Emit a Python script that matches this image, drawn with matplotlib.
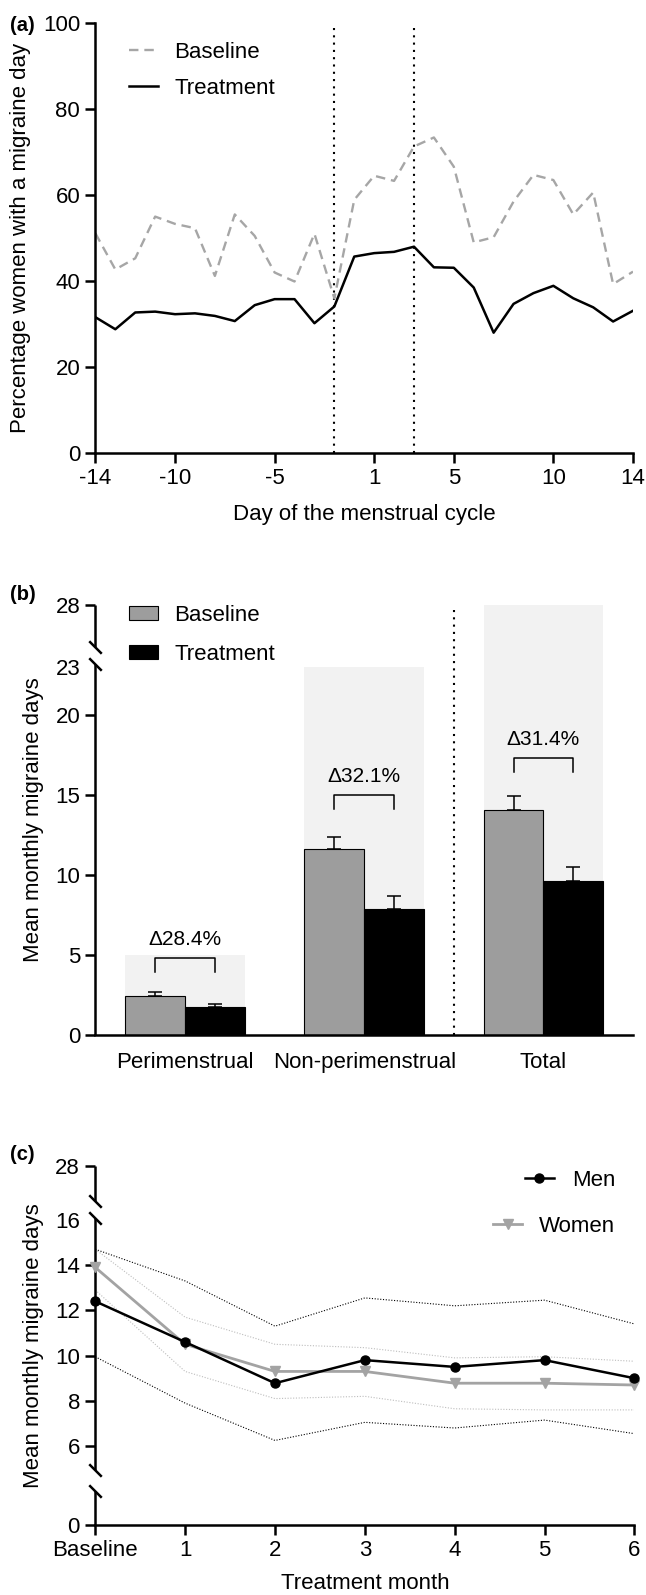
import numpy as np
import matplotlib
matplotlib.use("Agg")
from matplotlib import pyplot as plt

plt.rcParams["font.family"] = ["Liberation Sans", "DejaVu Sans"]
plt.rcParams["axes.unicode_minus"] = False

# ---- (a) percentage of women with a migraine day per cycle day
days = list(range(-14, 0)) + list(range(1, 15))
baseline_pct = [51.0, 42.6, 45.2, 54.9, 53.2, 52.2, 41.1, 55.4, 50.4, 41.9, 39.8, 50.9, 35.9, 58.8,
                64.4, 63.2, 71.2, 73.3, 66.5, 48.9, 50.1, 58.4, 64.6, 63.4, 55.4, 60.5, 39.2, 42.1]
treatment_pct = [31.5, 28.7, 32.6, 32.8, 32.2, 32.4, 31.8, 30.6, 34.3, 35.7, 35.7, 30.1, 34.0, 45.6,
                 46.4, 46.7, 47.9, 43.1, 43.0, 38.4, 27.9, 34.6, 37.1, 38.8, 35.9, 33.8, 30.5, 33.0]
peri_window = [-2, 3]
day_ticks = [-14, -10, -5, 1, 5, 10, 14]

# ---- (b) mean monthly migraine days by period
groups = ["Perimenstrual", "Non-perimenstrual", "Total"]
base_mmd = [2.45, 11.6, 14.05]
base_err = [0.25, 0.8, 0.9]
treat_mmd = [1.75, 7.88, 9.62]
treat_err = [0.2, 0.78, 0.85]
max_days = [5, 23, 28]
delta_labels = ["\u039428.4%", "\u039432.1%", "\u039431.4%"]
bracket_y = [4.8, 15.0, 17.3]

# ---- (c) men vs women over treatment months
months = ["Baseline", "1", "2", "3", "4", "5", "6"]
men = [12.4, 10.6, 8.78, 9.8, 9.5, 9.8, 9.0]
men_hi = [14.7, 13.3, 11.3, 12.55, 12.2, 12.45, 11.4]
men_lo = [9.95, 7.9, 6.25, 7.05, 6.8, 7.15, 6.55]
women = [13.9, 10.5, 9.3, 9.3, 8.78, 8.78, 8.7]
women_hi = [14.7, 11.7, 10.5, 10.35, 9.9, 9.95, 9.75]
women_lo = [12.9, 9.3, 8.1, 8.2, 7.65, 7.6, 7.6]

FS = 16
LW = 1.8


def skip_zero_fwd(d):
    d = np.asarray(d, float)
    return np.where(d > 0, d - 1, d)


def skip_zero_inv(u):
    u = np.asarray(u, float)
    return np.where(u > -1, u + 1, u)


def b_fwd(y):
    y = np.asarray(y, float)
    return np.where(y <= 23, y, 23 + (y - 23) * 0.775)


def b_inv(u):
    u = np.asarray(u, float)
    return np.where(u <= 23, u, 23 + (u - 23) / 0.775)


def c_fwd(y):
    y = np.asarray(y, float)
    return np.where(y < 6, 6 - (6 - y) * 0.581, np.where(y > 16, 16 + (y - 16) * 0.1985, y))


def c_inv(u):
    u = np.asarray(u, float)
    return np.where(u < 6, 6 - (6 - u) / 0.581, np.where(u > 16, 16 + (u - 16) / 0.1985, u))


def broken_left_spine(ax, segments, breaks):
    ax.spines["left"].set_visible(False)
    tr = ax.get_yaxis_transform()
    for y0, y1 in segments:
        ax.plot([0, 0], [y0, y1], transform=tr, color="k", lw=LW, solid_capstyle="butt", clip_on=False)
    for yb in breaks:
        ax.plot([0], [yb], transform=tr, marker=[(-1, 1), (1, -1)], ms=9, mew=LW,
                mec="k", mfc="k", clip_on=False)


def style(ax):
    for s in ["top", "right"]:
        ax.spines[s].set_visible(False)
    for s in ["left", "bottom"]:
        ax.spines[s].set_linewidth(LW)
    ax.tick_params(direction="out", length=7, width=LW, labelsize=FS, pad=4)


fig = plt.figure(figsize=(6.46, 15.95), dpi=100)

# ================= (a)
ax = fig.add_axes([0.1477, 0.7162, 0.8322, 0.2696])
style(ax)
ax.set_xscale("function", functions=(skip_zero_fwd, skip_zero_inv))
ax.plot(days, baseline_pct, color="#a6a6a6", lw=1.7, ls=(0, (4, 2.5)), label="Baseline")
ax.plot(days, treatment_pct, color="k", lw=LW, label="Treatment")
for d in peri_window:
    ax.axvline(d, color="k", lw=1.5, ls=(0, (1, 2.5)), zorder=0)
ax.set_xlim(-14, 14)
ax.set_ylim(0, 100)
ax.set_xticks(day_ticks)
ax.set_xticklabels([str(d) for d in day_ticks])
ax.set_yticks([0, 20, 40, 60, 80, 100])
ax.set_xlabel("Day of the menstrual cycle", fontsize=FS)
ax.set_ylabel("Percentage women with a migraine day", fontsize=FS)
ax.xaxis.set_label_coords(0.5, -0.12)
ax.yaxis.set_label_coords(-0.12, 0.5)
ax.legend(loc="upper left", bbox_to_anchor=(0.0625, 0.955), frameon=False, fontsize=FS,
          handlelength=1.3, handletextpad=0.75, labelspacing=0.68, borderpad=0, borderaxespad=0)

# ================= (b)
ax = fig.add_axes([0.1477, 0.3511, 0.8322, 0.2696])
style(ax)
ax.set_yscale("function", functions=(b_fwd, b_inv))
x = np.arange(len(groups))
bw = 1 / 3
ax.bar(x, max_days, width=2 * bw, color="#f2f2f2", zorder=0)
ax.bar(x - bw / 2, base_mmd, width=bw, color="#9d9d9d", edgecolor="k", lw=0.8, label="Baseline", zorder=2)
ax.bar(x + bw / 2, treat_mmd, width=bw, color="k", edgecolor="k", lw=0.8, label="Treatment", zorder=2)
ax.errorbar(x - bw / 2, base_mmd, yerr=[np.zeros(3), base_err], fmt="none", ecolor="k",
            elinewidth=1.1, capsize=5, capthick=1.1, zorder=3)
ax.errorbar(x + bw / 2, treat_mmd, yerr=[np.zeros(3), treat_err], fmt="none", ecolor="k",
            elinewidth=1.1, capsize=5, capthick=1.1, zorder=3)
for xi, yb, lab in zip(x, bracket_y, delta_labels):
    ax.plot([xi - bw / 2, xi - bw / 2, xi + bw / 2, xi + bw / 2], [yb - 0.85, yb, yb, yb - 0.85],
            color="k", lw=1.1, zorder=3)
    ax.text(xi, yb + 1.15, lab, ha="center", va="center", fontsize=15)
ax.axvline(1.5, color="k", lw=1.5, ls=(0, (1, 2.5)), zorder=1)
ax.set_xlim(-0.5, 2.5)
ax.set_ylim(0, 28)
ax.set_xticks(x)
ax.set_xticklabels(groups)
ax.tick_params(axis="x", length=0, pad=12)
ax.set_yticks([0, 5, 10, 15, 20, 23, 28])
ax.yaxis.get_major_ticks()[5].tick1line.set_visible(False)
ax.set_ylabel("Mean monthly migraine days", fontsize=FS)
ax.yaxis.set_label_coords(-0.0965, 0.5)
broken_left_spine(ax, [(0, 23.25), (24.6, 28)], [23.25, 24.6])
ax.legend(loc="upper left", bbox_to_anchor=(0.0625, 1.0), frameon=False, fontsize=FS,
          handlelength=1.3, handleheight=0.6, handletextpad=0.75, labelspacing=0.8,
          borderpad=0, borderaxespad=0)

# ================= (c)
ax = fig.add_axes([0.1474, 0.0439, 0.8347, 0.2251])
style(ax)
ax.set_yscale("function", functions=(c_fwd, c_inv))
xm = np.arange(len(months))
ax.plot(xm, men_hi, color="k", lw=0.8, ls=(0, (1, 1.5)), zorder=1)
ax.plot(xm, men_lo, color="k", lw=0.8, ls=(0, (1, 1.5)), zorder=1)
ax.plot(xm, women_hi, color="#bdbdbd", lw=0.8, ls=(0, (1, 1.5)), zorder=1)
ax.plot(xm, women_lo, color="#bdbdbd", lw=0.8, ls=(0, (1, 1.5)), zorder=1)
l_w, = ax.plot(xm, women, color="#a3a3a3", lw=2.0, marker="v", ms=6.5, zorder=3, clip_on=False)
l_m, = ax.plot(xm, men, color="k", lw=1.8, marker="o", ms=6.5, zorder=4, clip_on=False)
ax.set_xlim(0, 6)
ax.set_ylim(0, 28)
ax.set_xticks(xm)
ax.set_xticklabels(months)
ax.set_yticks([0, 6, 8, 10, 12, 14, 16, 28])
ax.yaxis.get_major_ticks()[6].tick1line.set_visible(False)
ax.set_xlabel("Treatment month", fontsize=FS)
ax.set_ylabel("Mean monthly migraine days", fontsize=FS)
ax.xaxis.set_label_coords(0.5, -0.135)
ax.yaxis.set_label_coords(-0.0959, 0.5)
broken_left_spine(ax, [(0, 2.56), (4.19, 16.3), (20.2, 28)], [2.56, 4.19, 16.3, 20.2])
leg_m = ax.legend([l_m], ["Men"], loc="upper right", bbox_to_anchor=(0.964, 0.988), frameon=False,
                  fontsize=FS, handlelength=1.3, handletextpad=0.8, borderpad=0, borderaxespad=0)
ax.add_artist(leg_m)
ax.legend([l_w], ["Women"], loc="upper right", bbox_to_anchor=(0.964, 0.86), frameon=False,
          fontsize=FS, handlelength=1.3, handletextpad=0.75, borderpad=0, borderaxespad=0)

for lab, yy in [("(a)", 0.9843), ("(b)", 0.627), ("(c)", 0.2759)]:
    fig.text(0.016, yy, lab, fontsize=14.5, fontweight="bold", va="center", ha="left")

fig.savefig("out.png", dpi=100)
